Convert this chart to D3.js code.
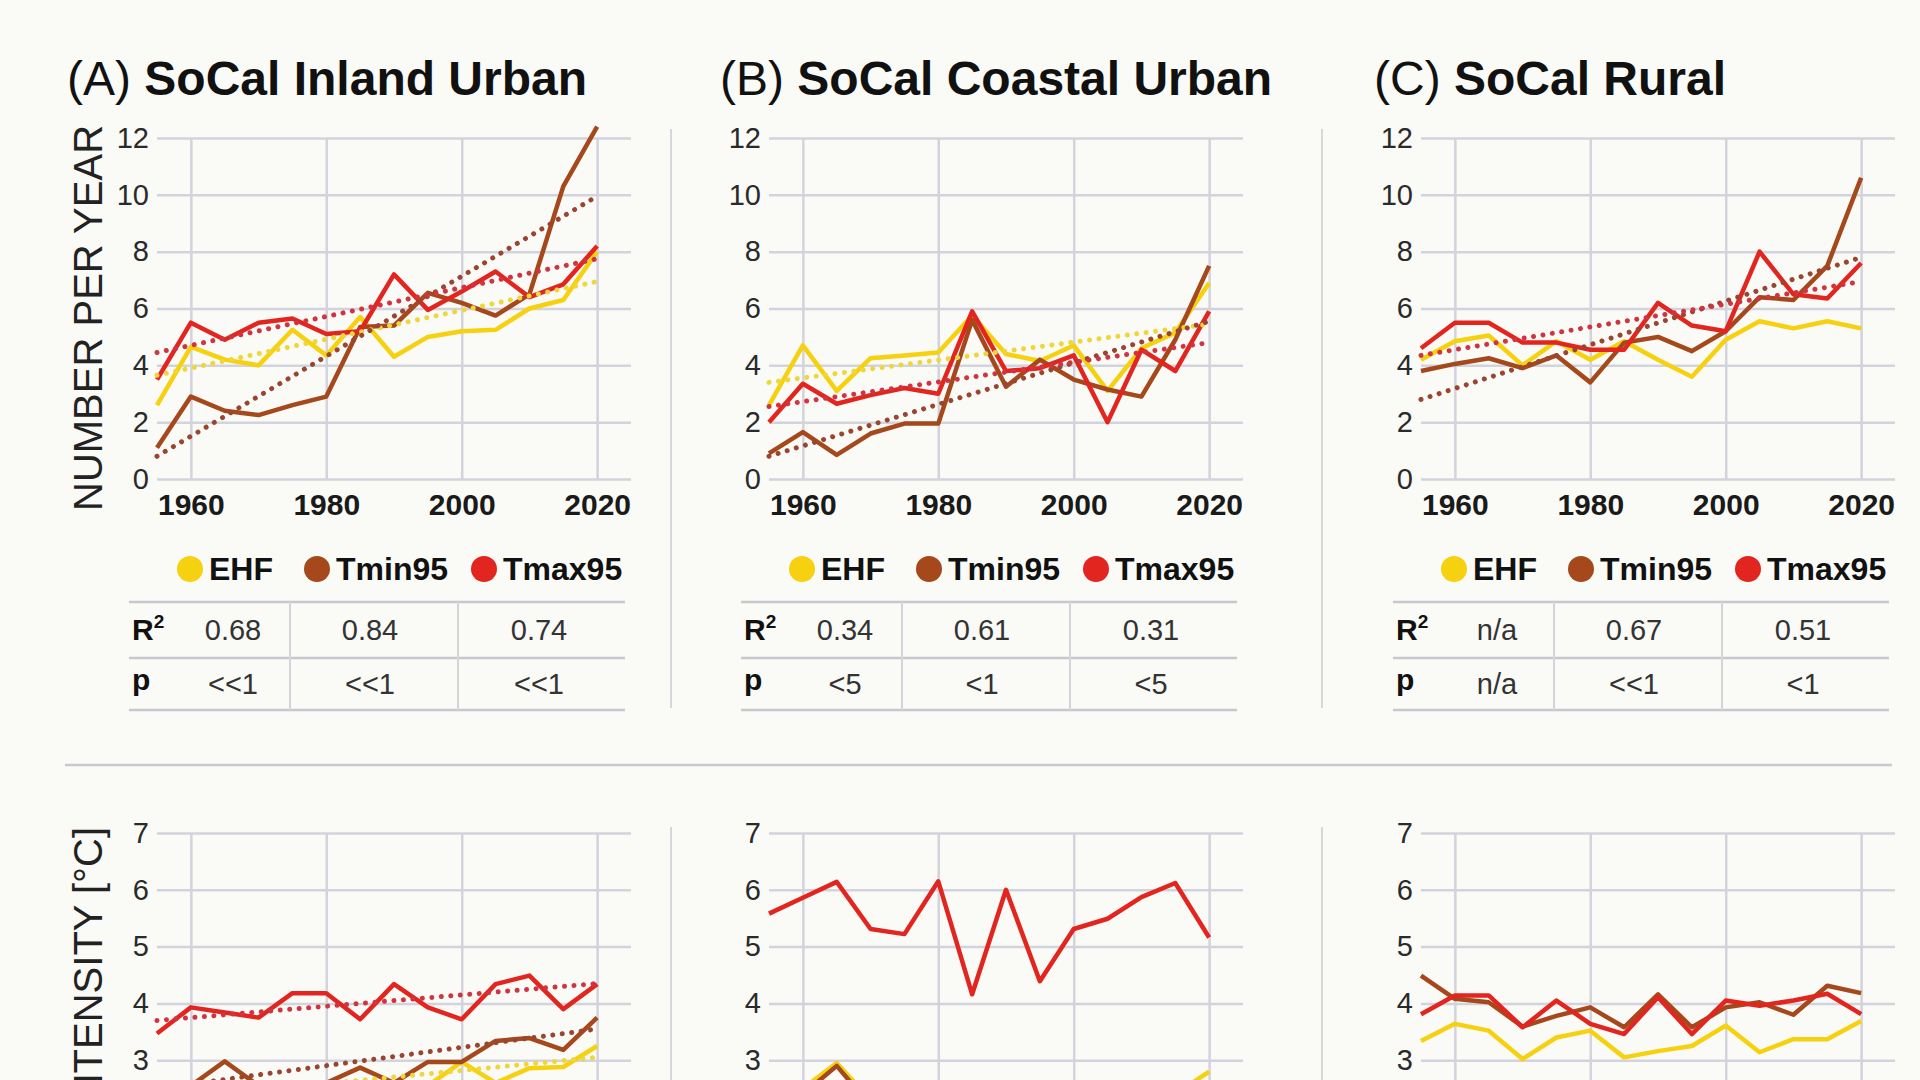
<!DOCTYPE html>
<html>
<head>
<meta charset="utf-8">
<script src="https://cdn.jsdelivr.net/npm/d3@7"></script>
<style>
  html, body { margin: 0; padding: 0; background: #fafaf6; overflow: hidden; }
  svg { display: block; font-family: "Liberation Sans", Arial, sans-serif; }
</style>
</head>
<body>
<svg id="chart" width="1920" height="1080"></svg>
<script>
const years = [1955, 1960, 1965, 1970, 1975, 1980, 1985, 1990, 1995, 2000, 2005, 2010, 2015, 2020];
const letters = ["(A)", "(B)", "(C)"];
const regions = ["SoCal Inland Urban", "SoCal Coastal Urban", "SoCal Rural"];
const seriesNames = ["EHF", "Tmin95", "Tmax95"];
const yearTicks = [1960, 1980, 2000, 2020];
const countTicks = [0, 2, 4, 6, 8, 10, 12];
const intensityTicks = [3, 4, 5, 6, 7];

// heatwaves per year (top row)
const inlandEHF   = [2.6, 4.65, 4.2, 4.0, 5.25, 4.35, 5.7, 4.3, 5.0, 5.2, 5.25, 6.0, 6.3, 8.0];
const inlandTmin  = [1.1, 2.9, 2.4, 2.25, 2.6, 2.9, 5.35, 5.4, 6.55, 6.2, 5.75, 6.5, 10.3, 12.4];
const inlandTmax  = [3.5, 5.5, 4.9, 5.5, 5.65, 5.1, 5.2, 7.2, 5.95, 6.6, 7.3, 6.4, 6.85, 8.2];
const coastalEHF  = [2.6, 4.7, 3.1, 4.25, 4.35, 4.45, 5.75, 4.4, 4.15, 4.7, 3.1, 4.6, 5.15, 6.9];
const coastalTmin = [0.9, 1.65, 0.85, 1.6, 1.95, 1.95, 5.6, 3.25, 4.2, 3.5, 3.15, 2.9, 4.9, 7.5];
const coastalTmax = [2.0, 3.35, 2.65, 2.95, 3.2, 3.0, 5.9, 3.8, 3.9, 4.35, 2.0, 4.55, 3.8, 5.9];
const ruralEHF    = [4.2, 4.85, 5.05, 4.0, 4.85, 4.2, 4.85, 4.2, 3.6, 4.9, 5.55, 5.3, 5.55, 5.3];
const ruralTmin   = [3.8, 4.05, 4.25, 3.9, 4.35, 3.4, 4.8, 5.0, 4.5, 5.2, 6.4, 6.3, 7.5, 10.6];
const ruralTmax   = [4.6, 5.5, 5.5, 4.8, 4.8, 4.55, 4.55, 6.2, 5.4, 5.2, 8.0, 6.5, 6.35, 7.6];

// fitted trend at 1955 and 2020 (EHF, Tmin95, Tmax95), null = none
const inlandTrendStart  = [3.65, 0.8, 4.45];
const inlandTrendEnd    = [6.95, 9.95, 7.75];
const coastalTrendStart = [3.4, 0.8, 2.55];
const coastalTrendEnd   = [5.45, 5.55, 4.8];
const ruralTrendStart   = [null, 2.8, 4.35];
const ruralTrendEnd     = [null, 7.8, 6.95];

// table values
const inlandR2  = ["0.68", "0.84", "0.74"];
const inlandP   = ["<<1", "<<1", "<<1"];
const coastalR2 = ["0.34", "0.61", "0.31"];
const coastalP  = ["<5", "<1", "<5"];
const ruralR2   = ["n/a", "0.67", "0.51"];
const ruralP    = ["n/a", "<<1", "<1"];

// intensity (bottom row)
const inlandIntEHF   = [2.2, 2.3, 2.3, 2.4, 2.4, 2.4, 2.5, 2.5, 2.55, 2.97, 2.6, 2.86, 2.88, 3.25];
const inlandIntTmin  = [2.5, 2.55, 2.98, 2.55, 2.6, 2.6, 2.87, 2.6, 2.97, 2.97, 3.34, 3.39, 3.18, 3.75];
const inlandIntTmax  = [3.47, 3.93, 3.84, 3.75, 4.18, 4.18, 3.72, 4.34, 3.93, 3.72, 4.34, 4.49, 3.9, 4.34];
const coastalIntEHF  = [2.4, 2.5, 2.95, 2.3, 2.4, 2.5, 2.3, 2.4, 2.2, 2.4, 2.3, 2.5, 2.4, 2.8];
const coastalIntTmin = [2.2, 2.4, 2.9, 2.2, 2.3, 2.4, 2.2, 2.3, 2.1, 2.3, 2.2, 2.3, 2.4, 2.5];
const coastalIntTmax = [5.58, 5.86, 6.14, 5.31, 5.22, 6.15, 4.16, 6.0, 4.39, 5.31, 5.49, 5.87, 6.12, 5.16];
const ruralIntEHF    = [3.34, 3.64, 3.52, 3.02, 3.4, 3.52, 3.05, 3.16, 3.25, 3.61, 3.14, 3.37, 3.37, 3.69];
const ruralIntTmin   = [4.49, 4.08, 4.02, 3.59, 3.78, 3.93, 3.58, 4.16, 3.58, 3.93, 4.02, 3.8, 4.31, 4.18];
const ruralIntTmax   = [3.81, 4.14, 4.14, 3.58, 4.05, 3.64, 3.46, 4.11, 3.46, 4.05, 3.96, 4.05, 4.17, 3.81];

const intTrendStart = [2.3, 2.5, 3.7];
const intTrendEnd   = [3.05, 3.55, 4.35];

const colors = ["#f6d10f", "#a5481c", "#e3251f"];
const trendColors = ["#efd63a", "#9a4530", "#d23340"];
const gridColor = "#d2d3dd";

const panels = [
    { count: [inlandEHF, inlandTmin, inlandTmax], ts: inlandTrendStart, te: inlandTrendEnd, r2: inlandR2, p: inlandP,
      int: [inlandIntEHF, inlandIntTmin, inlandIntTmax], its: intTrendStart, ite: intTrendEnd },
    { count: [coastalEHF, coastalTmin, coastalTmax], ts: coastalTrendStart, te: coastalTrendEnd, r2: coastalR2, p: coastalP,
      int: [coastalIntEHF, coastalIntTmin, coastalIntTmax], its: [null, null, null], ite: [null, null, null] },
    { count: [ruralEHF, ruralTmin, ruralTmax], ts: ruralTrendStart, te: ruralTrendEnd, r2: ruralR2, p: ruralP,
      int: [ruralIntEHF, ruralIntTmin, ruralIntTmax], its: [null, null, null], ite: [null, null, null] }
];

const plotLeft = [157, 769, 1421];
const titleX = [67, 720, 1374];
const plotW = 474;

const svg = d3.select("#chart");

const xScale = d3.scaleLinear().domain([1955, 2025]).range([0, plotW]);
const yCount = d3.scaleLinear().domain([0, 12]).range([479, 138]);
const yInt = d3.scaleLinear().domain([2, 7]).range([1117, 833]);

function drawPlot(g, y, ticks, series, tStart, tEnd, showYears) {
    const top = y(ticks[ticks.length - 1]);
    const bottom = y.range()[0] > 1080 ? y.range()[0] : y(ticks[0]);

    // horizontal grid + labels
    const yAxis = g.append("g")
        .call(d3.axisLeft(y).tickValues(ticks).tickSize(-plotW).tickPadding(8).tickFormat(d3.format("d")));
    yAxis.attr("font-family", null).attr("font-size", null);
    yAxis.select(".domain").remove();
    yAxis.selectAll("line").attr("stroke", gridColor).attr("stroke-width", 2.5);
    yAxis.selectAll("text").attr("font-size", 29).attr("fill", "#2a2a2a");

    // vertical grid + year labels
    const xAxis = g.append("g")
        .attr("transform", `translate(0,${bottom})`)
        .call(d3.axisBottom(xScale).tickValues(yearTicks).tickSize(-(bottom - top)).tickPadding(15)
            .tickFormat(showYears ? d3.format("d") : () => ""));
    xAxis.attr("font-family", null).attr("font-size", null);
    xAxis.select(".domain").remove();
    xAxis.selectAll("line").attr("stroke", gridColor).attr("stroke-width", 2.5);
    xAxis.selectAll("text").attr("font-size", 30).attr("font-weight", "bold").attr("fill", "#1a1a1a");

    const line = d3.line().x(d => xScale(d[0])).y(d => y(d[1]));

    series.forEach((vals, k) => {
        g.append("path")
            .datum(years.map((yr, j) => [yr, vals[j]]))
            .attr("d", line)
            .attr("fill", "none")
            .attr("stroke", colors[k])
            .attr("stroke-width", 4.5)
            .attr("stroke-linejoin", "round");
    });

    tStart.forEach((s, k) => {
        if (s === null) return;
        g.append("path")
            .datum([[1955, s], [2020, tEnd[k]]])
            .attr("d", line)
            .attr("fill", "none")
            .attr("stroke", trendColors[k])
            .attr("stroke-width", 5)
            .attr("stroke-linecap", "round")
            .attr("stroke-dasharray", "0.01 9.5");
    });
}

panels.forEach((pd, i) => {
    const left = plotLeft[i];

    // title
    const title = svg.append("text")
        .attr("x", titleX[i])
        .attr("y", 95)
        .attr("font-size", 48)
        .attr("fill", "#111");
    title.append("tspan").text(letters[i] + " ");
    title.append("tspan").attr("font-weight", "bold").text(regions[i]);

    const gTop = svg.append("g").attr("transform", `translate(${left},0)`);
    drawPlot(gTop, yCount, countTicks, pd.count, pd.ts, pd.te, true);

    // legend
    const legX = [33, 160, 327];
    seriesNames.forEach((name, k) => {
        gTop.append("circle")
            .attr("cx", legX[k]).attr("cy", 569).attr("r", 13)
            .attr("fill", colors[k]);
        gTop.append("text")
            .attr("x", legX[k] + 19).attr("y", 580)
            .attr("font-size", 32).attr("font-weight", "bold").attr("fill", "#111")
            .text(name);
    });

    // stats table
    const rowY = [602, 658, 710];
    rowY.forEach(yy => {
        gTop.append("line")
            .attr("x1", -28).attr("x2", 468).attr("y1", yy).attr("y2", yy)
            .attr("stroke", "#c8c8ce").attr("stroke-width", 2.5);
    });
    [133, 301].forEach(xx => {
        gTop.append("line")
            .attr("x1", xx).attr("x2", xx).attr("y1", 602).attr("y2", 710)
            .attr("stroke", "#d4d4da").attr("stroke-width", 2);
    });
    const r2Label = gTop.append("text")
        .attr("x", -25).attr("y", 640)
        .attr("font-size", 30).attr("font-weight", "bold").attr("fill", "#111");
    r2Label.append("tspan").text("R");
    r2Label.append("tspan").attr("font-size", 19).attr("dy", -12).text("2");
    gTop.append("text")
        .attr("x", -25).attr("y", 690)
        .attr("font-size", 30).attr("font-weight", "bold").attr("fill", "#111")
        .text("p");
    const colX = [76, 213, 382];
    pd.r2.forEach((v, k) => {
        gTop.append("text")
            .attr("x", colX[k]).attr("y", 640).attr("text-anchor", "middle")
            .attr("font-size", 29).attr("fill", "#333").text(v);
    });
    pd.p.forEach((v, k) => {
        gTop.append("text")
            .attr("x", colX[k]).attr("y", 694).attr("text-anchor", "middle")
            .attr("font-size", 29).attr("fill", "#333").text(v);
    });

    // bottom row
    const gBot = svg.append("g").attr("transform", `translate(${left},0)`);
    drawPlot(gBot, yInt, intensityTicks, pd.int, pd.its, pd.ite, false);
});

// separators
[671, 1322].forEach(xx => {
    svg.append("line").attr("x1", xx).attr("x2", xx).attr("y1", 129).attr("y2", 708)
        .attr("stroke", "#d6d6dc").attr("stroke-width", 2);
    svg.append("line").attr("x1", xx).attr("x2", xx).attr("y1", 827).attr("y2", 1080)
        .attr("stroke", "#d6d6dc").attr("stroke-width", 2);
});
svg.append("line").attr("x1", 65).attr("x2", 1892).attr("y1", 765).attr("y2", 765)
    .attr("stroke", "#c8c8ce").attr("stroke-width", 2.5);

// axis titles
svg.append("text")
    .attr("transform", "translate(102,318) rotate(-90)")
    .attr("text-anchor", "middle")
    .attr("font-size", 40).attr("fill", "#222")
    .text("NUMBER PER YEAR");
svg.append("text")
    .attr("transform", "translate(102,827) rotate(-90)")
    .attr("text-anchor", "end")
    .attr("font-size", 40).attr("fill", "#222")
    .text("INTENSITY [°C]");
</script>
</body>
</html>
